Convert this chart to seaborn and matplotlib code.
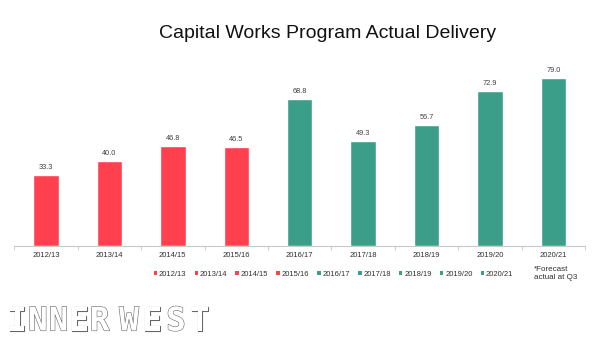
import matplotlib
matplotlib.use("Agg")
import matplotlib.pyplot as plt
import matplotlib.patheffects as pe
from matplotlib.patches import Patch
import seaborn as sns
import pandas as pd

years = ["2012/13", "2013/14", "2014/15", "2015/16", "2016/17",
         "2017/18", "2018/19", "2019/20", "2020/21"]
values = [33.3, 40.0, 46.8, 46.5, 68.8, 49.3, 56.7, 72.9, 79.0]
title = "Capital Works Program Actual Delivery"
note = "*Forecast\nactual at Q3"
logo_letters = ["I", "N", "N", "E", "R", "W", "E", "S", "T"]

RED = "#FF404E"
TEAL = "#3A9E88"
colors = [RED] * 4 + [TEAL] * 5

sns.set_theme(style="white")
plt.rcParams["font.family"] = ["Liberation Sans", "DejaVu Sans"]

df = pd.DataFrame({"year": years, "value": values})

fig = plt.figure(figsize=(6.02, 3.41), dpi=100)
ax = fig.add_axes([14.3 / 602, 1 - 246 / 341, 570.7 / 602, 187.4 / 341])

sns.barplot(data=df, x="year", y="value", hue="year", palette=colors,
            dodge=False, width=0.4, legend=False, ax=ax, saturation=1)

for c in ax.containers:
    ax.bar_label(c, fmt="%.1f", padding=3, fontsize=5.3, color="#404040")

ax.set_ylim(0, 88)
ax.set_xlim(-0.5, len(years) - 0.5)
ax.set_xlabel("")
ax.set_ylabel("")
ax.set_yticks([])
for s in ["top", "right", "left"]:
    ax.spines[s].set_visible(False)
ax.spines["bottom"].set_color("#c8c8c8")
ax.spines["bottom"].set_linewidth(0.8)
ax.tick_params(axis="x", which="major", length=0, labelsize=5.5,
               labelcolor="#303030", pad=4)
ax.set_xticks([i + 0.5 for i in range(-1, len(years))], minor=True)
ax.tick_params(axis="x", which="minor", bottom=True, length=3,
               color="#c8c8c8", width=0.6)

handles = [Patch(facecolor=col, edgecolor="none", label=y)
           for y, col in zip(years, colors)]
leg = fig.legend(handles=handles, loc="center", ncol=9,
                 bbox_to_anchor=(333.5 / 602, 1 - 274.6 / 341),
                 frameon=False, fontsize=5.5, handlelength=0.45,
                 handleheight=0.45, handletextpad=0.25, columnspacing=1.05,
                 labelcolor="#303030")

fig.text(534 / 602, 1 - 266 / 341, note, fontsize=5.8, color="#303030",
         ha="left", va="top", linespacing=1.15)

fig.text(327.5 / 602, 1 - 34 / 341, title, fontsize=14, color="#111111",
         ha="center", va="center")

# Inner West wordmark drawn as outlined letters
centers = [17.3, 37.9, 58.5, 79.1, 99.7, 129, 152.5, 176, 200]
for ch, cx in zip(logo_letters, centers):
    fig.text(cx / 602, 1 - 321 / 341, ch, fontsize=23.5, fontweight="bold",
             family=["DejaVu Sans Mono"], ha="center", va="center",
             color="white",
             path_effects=[pe.Stroke(linewidth=0.8, foreground="#666666"),
                           pe.Normal()])

fig.savefig("out.png", dpi=100)
